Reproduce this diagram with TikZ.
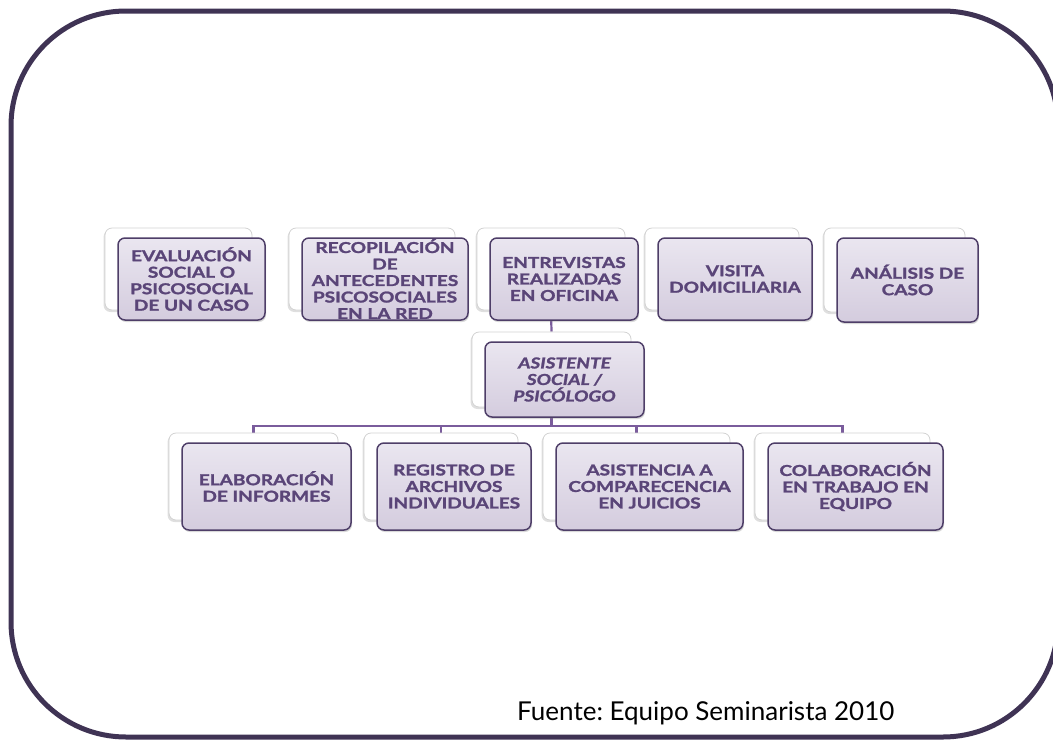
\documentclass[tikz,border=0pt]{standalone}
\usepackage{fontspec}
\setmainfont{Lato}
\newfontfamily\boxfont[FakeStretch=1.27, FakeBold=1.6]{Lato}
\usetikzlibrary{backgrounds,shadows}

\definecolor{framec}{HTML}{3F3354}
\definecolor{boxline}{HTML}{4E3E68}
\definecolor{boxtext}{HTML}{5A4578}
\definecolor{linkc}{HTML}{7A5C9C}
\definecolor{lavtop}{HTML}{EAE6F0}
\definecolor{lavbot}{HTML}{D4CCDE}

\begin{document}
\frenchspacing
\begin{tikzpicture}[x=1pt,y=-1pt,
    backbox/.style={draw=gray!35, fill=white, line width=0.8pt, rounded corners=7pt,
      drop shadow={opacity=0.25, shadow xshift=-1.5pt, shadow yshift=-2pt}},
    frontbox/.style={draw=boxline, line width=1.5pt, rounded corners=7pt,
      top color=lavtop, bottom color=lavbot, text=boxtext, align=center, inner sep=1pt,
      font=\boxfont\bfseries\fontsize{15}{16.5}\selectfont,
      drop shadow={opacity=0.3, shadow xshift=1pt, shadow yshift=-2pt}},
    link/.style={draw=linkc, line width=2.2pt}]
    \useasboundingbox (0,0) rectangle (1053,740);

    % outer frame
    \draw[framec, line width=5pt, rounded corners=115pt] (11,11) rectangle (1058,737);

    % top row
    \node[backbox, minimum width=147pt, minimum height=82pt] (evalB) at (178.5,269) {};
    \node[frontbox, minimum width=147pt, minimum height=82pt] (evalF) at (191.5,279) {EVALUACIÓN\\SOCIAL O\\PSICOSOCIAL\\DE UN CASO};
    \node[backbox, minimum width=166pt, minimum height=82pt] (recoB) at (372,269) {};
    \node[frontbox, minimum width=166pt, minimum height=82pt] (recoF) at (385,279) {RECOPILACIÓN\\DE\\ANTECEDENTES\\PSICOSOCIALES\\EN LA RED};
    \node[backbox, minimum width=148pt, minimum height=82pt] (entrB) at (551,269) {};
    \node[frontbox, minimum width=148pt, minimum height=82pt] (entrF) at (564,279) {ENTREVISTAS\\REALIZADAS\\EN OFICINA};
    \node[backbox, minimum width=154pt, minimum height=82pt] (visiB) at (722,269) {};
    \node[frontbox, minimum width=154pt, minimum height=82pt] (visiF) at (735,279) {VISITA\\DOMICILIARIA};
    \node[backbox, minimum width=141pt, minimum height=84pt] (analB) at (894.5,270) {};
    \node[frontbox, minimum width=141pt, minimum height=84pt] (analF) at (907.5,280) {ANÁLISIS DE\\CASO};

    % middle
    \node[backbox, minimum width=159pt, minimum height=75pt] (asisB) at (551.5,369.5) {};
    \node[frontbox, minimum width=159pt, minimum height=75pt, font=\boxfont\bfseries\itshape\fontsize{15}{16.5}\selectfont] (asisF) at (564.5,379.5) {ASISTENTE\\SOCIAL /\\PSICÓLOGO};

    % bottom row
    \node[backbox, minimum width=169pt, minimum height=87pt] (elabB) at (253.5,476.5) {};
    \node[frontbox, minimum width=169pt, minimum height=87pt] (elabF) at (266.5,486.5) {ELABORACIÓN\\DE INFORMES};
    \node[backbox, minimum width=154pt, minimum height=87pt] (regiB) at (441,476.5) {};
    \node[frontbox, minimum width=154pt, minimum height=87pt] (regiF) at (454,486.5) {REGISTRO DE\\ARCHIVOS\\INDIVIDUALES};
    \node[backbox, minimum width=187pt, minimum height=87pt] (compB) at (636.5,476.5) {};
    \node[frontbox, minimum width=187pt, minimum height=87pt] (compF) at (649.5,486.5) {ASISTENCIA A\\COMPARECENCIA\\EN JUICIOS};
    \node[backbox, minimum width=175pt, minimum height=87pt] (colaB) at (842.5,476.5) {};
    \node[frontbox, minimum width=175pt, minimum height=87pt] (colaF) at (855.5,486.5) {COLABORACIÓN\\EN TRABAJO EN\\EQUIPO};

    % connectors
    \coordinate (bus) at (551.5,426);
    \begin{pgfonlayer}{background}
        \draw[link] (entrB.south) -- (asisB.north);
        \draw[link] (asisB.south) -- (bus);
        \draw[link] (elabB.north) -- (elabB.north |- bus) -| (colaB.north);
        \draw[link] (regiB.north) -- (regiB.north |- bus);
        \draw[link] (compB.north) -- (compB.north |- bus);
    \end{pgfonlayer}

    \node[anchor=base west, inner sep=0pt, font=\fontsize{26}{26}\selectfont] (fuente) at (517,720) {Fuente: Equipo Seminarista 2010};
\end{tikzpicture}
\end{document}
